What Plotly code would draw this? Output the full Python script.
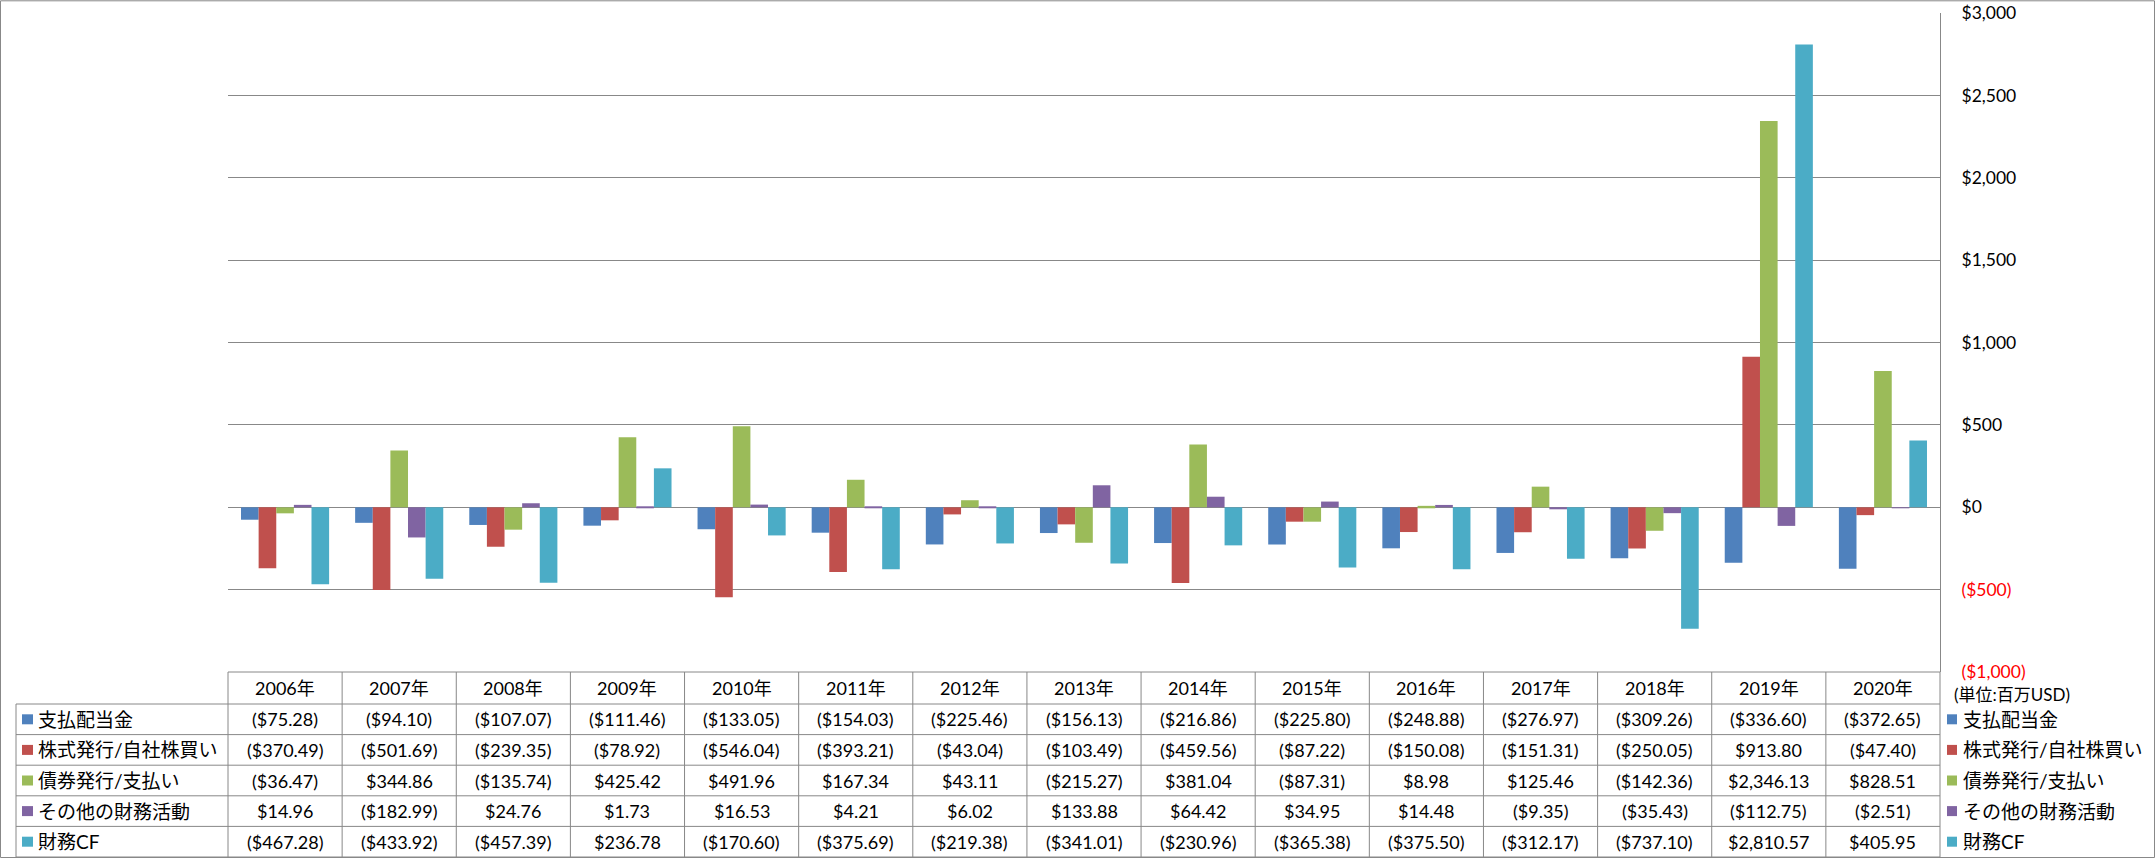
import plotly.graph_objects as go

# ---- data ----
years = ["2006年", "2007年", "2008年", "2009年", "2010年", "2011年", "2012年", "2013年",
         "2014年", "2015年", "2016年", "2017年", "2018年", "2019年", "2020年"]
series_names = ["支払配当金", "株式発行/自社株買い", "債券発行/支払い", "その他の財務活動", "財務CF"]
dividends = [-75.28, -94.10, -107.07, -111.46, -133.05, -154.03, -225.46, -156.13,
             -216.86, -225.80, -248.88, -276.97, -309.26, -336.60, -372.65]
stock = [-370.49, -501.69, -239.35, -78.92, -546.04, -393.21, -43.04, -103.49,
         -459.56, -87.22, -150.08, -151.31, -250.05, 913.80, -47.40]
debt = [-36.47, 344.86, -135.74, 425.42, 491.96, 167.34, 43.11, -215.27,
        381.04, -87.31, 8.98, 125.46, -142.36, 2346.13, 828.51]
other = [14.96, -182.99, 24.76, 1.73, 16.53, 4.21, 6.02, 133.88,
         64.42, 34.95, 14.48, -9.35, -35.43, -112.75, -2.51]
financing_cf = [-467.28, -433.92, -457.39, 236.78, -170.60, -375.69, -219.38, -341.01,
                -230.96, -365.38, -375.50, -312.17, -737.10, 2810.57, 405.95]
y_tickvals = [-1000, -500, 0, 500, 1000, 1500, 2000, 2500, 3000]
unit_label = "(単位:百万USD)"

series_values = [dividends, stock, debt, other, financing_cf]
colors = ["#4F81BD", "#C0504D", "#9BBB59", "#8064A2", "#4BACC6"]

W, H = 2156, 858
FONT = "Lato, 'Noto Sans CJK JP', sans-serif"
GRID = "#888888"


def px(x):
    return x / W


def py(y):
    return 1 - y / H


def fmt(v, dec=2):
    s = f"${abs(v):,.{dec}f}"
    return f"({s})" if v < 0 else s


fig = go.Figure()
for name, vals, col in zip(series_names, series_values, colors):
    fig.add_trace(go.Bar(x=years, y=vals, name=name, marker=dict(color=col, line=dict(width=0))))

ticktext = []
for v in y_tickvals:
    t = fmt(v, 0)
    if v < 0:
        t = f"<span style='color:#FF0000'>{t}</span>"
    ticktext.append(t)

X0, X1 = 228, 1940
TOP, BOT = 13.3, 672
fig.update_layout(
    width=W, height=H,
    margin=dict(l=0, r=0, t=0, b=0, autoexpand=False),
    paper_bgcolor="white", plot_bgcolor="white",
    showlegend=False,
    barmode="group", bargap=0.228, bargroupgap=0,
    font=dict(family=FONT, size=17, color="#000000"),
    xaxis=dict(domain=[px(X0), px(X1)], showticklabels=False, showgrid=False,
               zeroline=False, showline=False, ticks="", range=[-0.5, 14.5],
               automargin=False),
    yaxis=dict(domain=[py(BOT), py(TOP)], side="right", range=[-1000, 3000],
               tickvals=y_tickvals, ticktext=ticktext, showgrid=True, gridcolor=GRID,
               gridwidth=1, zeroline=True, zerolinecolor=GRID, zerolinewidth=1,
               showline=True, linecolor=GRID, linewidth=1, ticks="", automargin=False,
               ticklabelstandoff=17, tickfont=dict(family=FONT, size=17.5, color="#000000")),
)

shapes = []
line = dict(color=GRID, width=1)
# outer border
shapes.append(dict(type="rect", xref="paper", yref="paper", x0=px(0.5), x1=px(2154.5),
                   y0=py(857.5), y1=py(0.8), line=line))
# table geometry
colw = (X1 - X0) / len(years)
HDR_TOP, HDR_BOT, TBL_BOT = 672, 704, 857
rowh = (TBL_BOT - HDR_BOT) / len(series_names)
LEFT = 16
shapes.append(dict(type="line", xref="paper", yref="paper", x0=px(X0), x1=px(X1),
                   y0=py(HDR_TOP), y1=py(HDR_TOP), line=line))
for i in range(len(series_names) + 1):
    yy = HDR_BOT + i * rowh
    shapes.append(dict(type="line", xref="paper", yref="paper", x0=px(LEFT), x1=px(X1),
                       y0=py(yy), y1=py(yy), line=line))
shapes.append(dict(type="line", xref="paper", yref="paper", x0=px(LEFT), x1=px(LEFT),
                   y0=py(HDR_BOT), y1=py(TBL_BOT), line=line))
for k in range(len(years) + 1):
    xx = X0 + k * colw
    shapes.append(dict(type="line", xref="paper", yref="paper", x0=px(xx), x1=px(xx),
                       y0=py(HDR_TOP), y1=py(TBL_BOT), line=line))

annotations = []
TFONT = dict(family=FONT, size=18, color="#000000")
LFONT = dict(family=FONT, size=19, color="#000000")
for k, yr in enumerate(years):
    annotations.append(dict(xref="paper", yref="paper", x=px(X0 + (k + 0.5) * colw),
                            y=py((HDR_TOP + HDR_BOT) / 2), text=yr, showarrow=False,
                            xanchor="center", yanchor="middle", font=TFONT))
for r, (name, vals, col) in enumerate(zip(series_names, series_values, colors)):
    cy = HDR_BOT + (r + 0.5) * rowh
    for k, v in enumerate(vals):
        annotations.append(dict(xref="paper", yref="paper", x=px(X0 + (k + 0.5) * colw),
                                y=py(cy), text=fmt(v), showarrow=False,
                                xanchor="center", yanchor="middle", font=TFONT))
    # left legend keys
    shapes.append(dict(type="rect", xref="paper", yref="paper", x0=px(22), x1=px(33),
                       y0=py(cy + 5), y1=py(cy - 5), fillcolor=col, line=dict(width=0)))
    annotations.append(dict(xref="paper", yref="paper", x=px(36), y=py(cy), text=name,
                            showarrow=False, xanchor="left", yanchor="middle", font=LFONT))
    # right legend keys
    shapes.append(dict(type="rect", xref="paper", yref="paper", x0=px(1947), x1=px(1957),
                       y0=py(cy + 5), y1=py(cy - 5), fillcolor=col, line=dict(width=0)))
    annotations.append(dict(xref="paper", yref="paper", x=px(1961), y=py(cy), text=name,
                            showarrow=False, xanchor="left", yanchor="middle", font=LFONT))

annotations.append(dict(xref="paper", yref="paper", x=px(1952), y=py(694), text=unit_label,
                        showarrow=False, xanchor="left", yanchor="middle",
                        font=dict(family=FONT, size=17, color="#000000")))

fig.update_layout(shapes=shapes, annotations=annotations)
fig.write_html("out.html")
